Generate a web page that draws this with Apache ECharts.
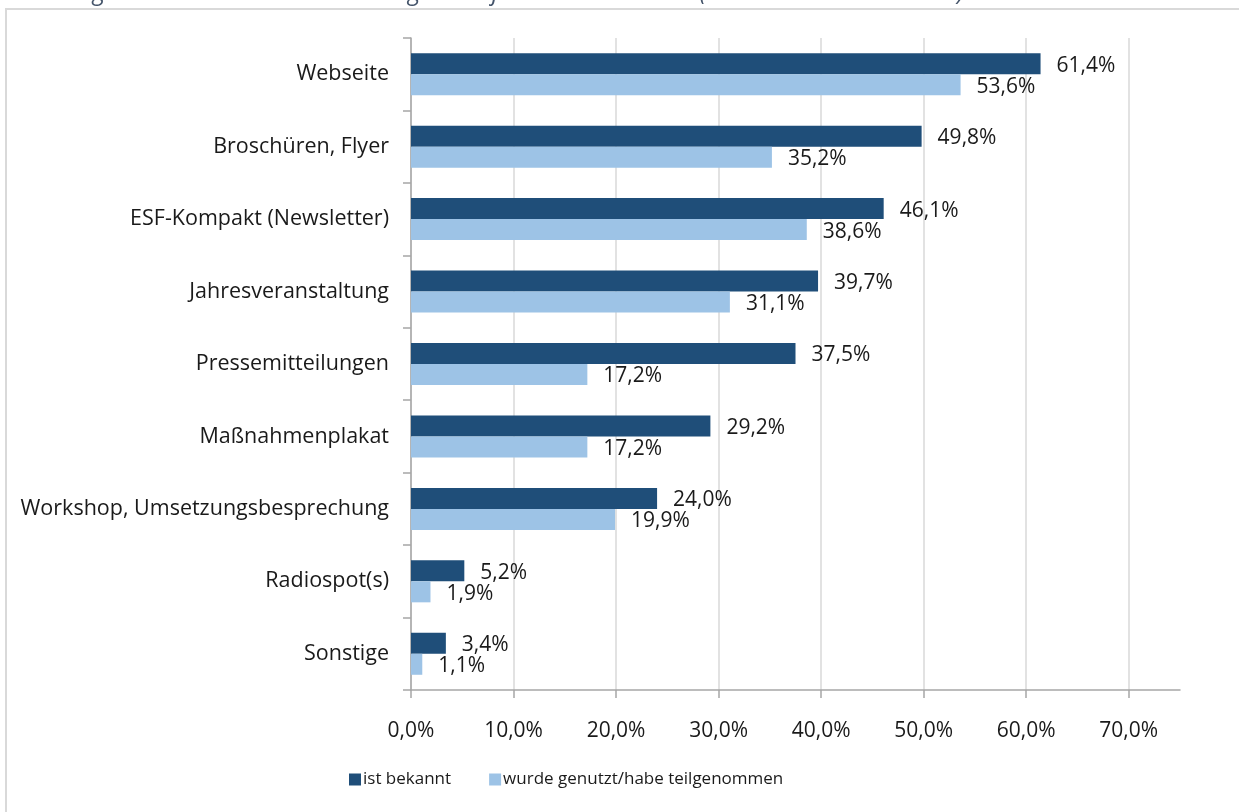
<!DOCTYPE html>
<html>
<head>
<meta charset="utf-8">
<script src="https://cdn.jsdelivr.net/npm/echarts@6/dist/echarts.min.js"></script>
<style>
  html, body { margin: 0; padding: 0; background: #fff; }
  #main { width: 1239px; height: 812px; }
</style>
</head>
<body>
<div id="main"></div>
<script type="text/javascript">
  // Daten
  var categories = ['Webseite', 'Broschüren, Flyer', 'ESF-Kompakt (Newsletter)', 'Jahresveranstaltung',
    'Pressemitteilungen', 'Maßnahmenplakat', 'Workshop, Umsetzungsbesprechung', 'Radiospot(s)', 'Sonstige'];
  var bekannt = [61.4, 49.8, 46.1, 39.7, 37.5, 29.2, 24.0, 5.2, 3.4];
  var genutzt = [53.6, 35.2, 38.6, 31.1, 17.2, 17.2, 19.9, 1.9, 1.1];
  var xTicks = [0, 10, 20, 30, 40, 50, 60, 70];
  var seriesNames = ['ist bekannt', 'wurde genutzt/habe teilgenommen'];
  var caption = 'Abbildung 23: Bekanntheit und Nutzung von Informationsmedien  (inkl. Onlinekonsultation)';

  var font = '"Open Sans", "Noto Sans", sans-serif';
  function pct(v) {
    return v.toFixed(1).replace('.', ',') + '%';
  }

  var myChart = echarts.init(document.getElementById('main'));

  var option = {
    animation: false,
    textStyle: { fontFamily: font },
    graphic: [
      {
        type: 'rect',
        shape: { x: 6, y: 9, width: 1300, height: 900 },
        style: { fill: 'none', stroke: '#d9d9d9', lineWidth: 2 }
      },
      {
        type: 'text',
        left: -2,
        top: -19,
        style: {
          text: caption,
          fill: '#44546a',
          font: 'italic 24px ' + font
        }
      }
    ],
    legend: {
      data: seriesNames,
      left: 344,
      top: 766,
      itemWidth: 12,
      itemHeight: 12,
      itemGap: 38,
      icon: 'rect',
      textStyle: { fontSize: 17, color: '#1a1a1a', fontFamily: font, padding: [0, 0, 0, -3] }
    },
    grid: {
      left: 411,
      right: 59,
      top: 38,
      bottom: 122,
      containLabel: false
    },
    xAxis: {
      type: 'value',
      min: 0,
      max: 75,
      interval: 10,
      axisLine: { show: true, lineStyle: { color: '#a6a6a6', width: 1.5 } },
      axisTick: { show: true, length: 8, customValues: xTicks, lineStyle: { color: '#a6a6a6', width: 1.5 } },
      axisLabel: {
        customValues: xTicks,
        formatter: function (v) { return pct(v); },
        margin: 31,
        fontSize: 21,
        color: '#1a1a1a',
        fontFamily: font
      },
      splitLine: {
        show: true,
        lineStyle: {
          color: ['#d9d9d9', '#d9d9d9', '#d9d9d9', '#d9d9d9', '#d9d9d9', '#d9d9d9', '#d9d9d9', '#d9d9d9', 'rgba(0,0,0,0)'],
          width: 1.5
        }
      }
    },
    yAxis: {
      type: 'category',
      data: categories,
      inverse: true,
      axisLine: { show: true, lineStyle: { color: '#a6a6a6', width: 1.5 } },
      axisTick: { show: true, length: 8, lineStyle: { color: '#a6a6a6', width: 1.5 } },
      axisLabel: {
        margin: 22,
        fontSize: 21.5,
        color: '#1a1a1a',
        fontFamily: font
      }
    },
    series: [
      {
        name: seriesNames[0],
        type: 'bar',
        data: bekannt,
        barWidth: 21,
        barGap: '0%',
        itemStyle: { color: '#1f4e79' },
        label: {
          show: true,
          position: 'right',
          distance: 16,
          offset: [0, 2],
          fontSize: 21,
          color: '#1a1a1a',
          fontFamily: font,
          formatter: function (p) { return pct(p.value); }
        }
      },
      {
        name: seriesNames[1],
        type: 'bar',
        data: genutzt,
        barWidth: 21,
        barGap: '0%',
        itemStyle: { color: '#9dc3e6' },
        label: {
          show: true,
          position: 'right',
          distance: 16,
          offset: [0, 2],
          fontSize: 21,
          color: '#1a1a1a',
          fontFamily: font,
          formatter: function (p) { return pct(p.value); }
        }
      }
    ]
  };

  myChart.setOption(option);
</script>
</body>
</html>
